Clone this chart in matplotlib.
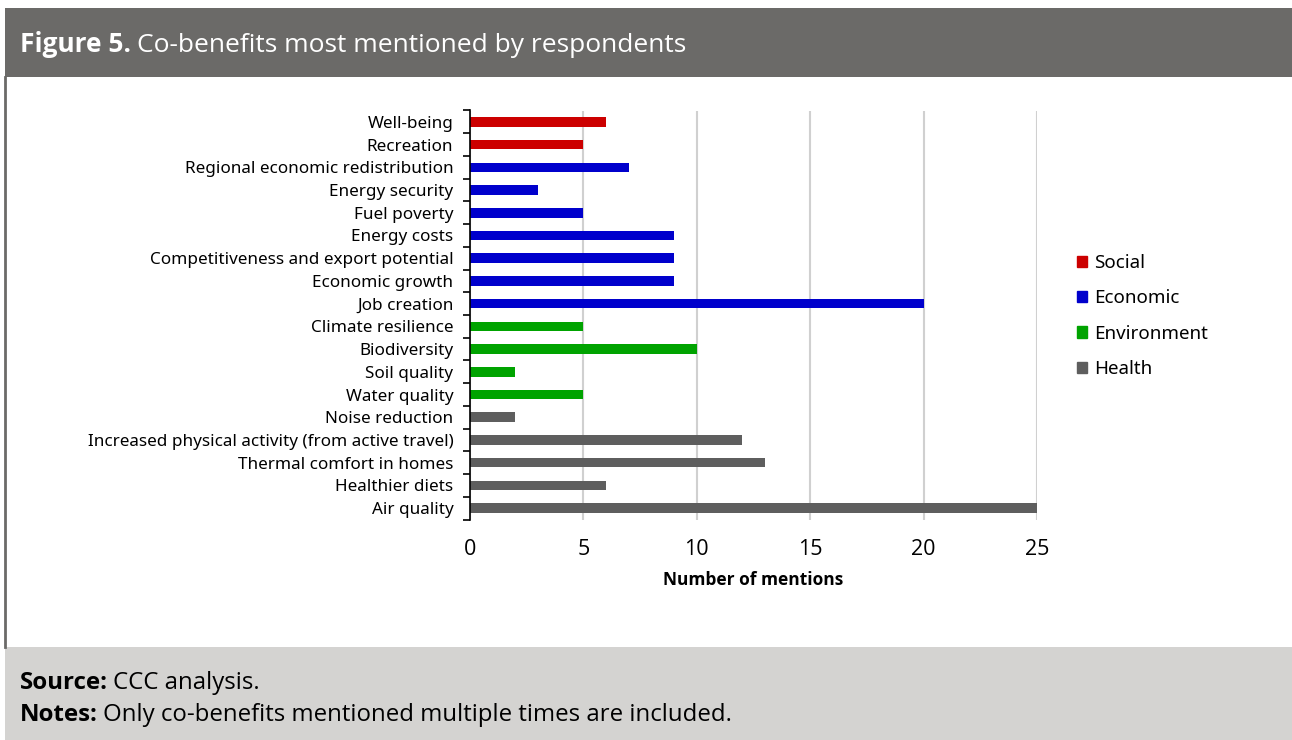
import matplotlib.pyplot as plt
from matplotlib.patches import Patch, Rectangle
from matplotlib.lines import Line2D

# Co-benefits, top to bottom, with counts and group
labels = [
    'Well-being', 'Recreation', 'Regional economic redistribution',
    'Energy security', 'Fuel poverty', 'Energy costs',
    'Competitiveness and export potential', 'Economic growth', 'Job creation',
    'Climate resilience', 'Biodiversity', 'Soil quality', 'Water quality',
    'Noise reduction', 'Increased physical activity (from active travel)',
    'Thermal comfort in homes', 'Healthier diets', 'Air quality',
]
mentions = [6, 5, 7, 3, 5, 9, 9, 9, 20, 5, 10, 2, 5, 2, 12, 13, 6, 25]
groups = ['Social'] * 2 + ['Economic'] * 7 + ['Environment'] * 4 + ['Health'] * 5

group_names = ['Social', 'Economic', 'Environment', 'Health']
group_colors = {'Social': '#CC0000', 'Economic': '#0000CC',
                'Environment': '#00A300', 'Health': '#5E5E5E'}

x_ticks = [0, 5, 10, 15, 20, 25]

W, H = 1292, 740
fig = plt.figure(figsize=(W / 100, H / 100), dpi=100)
fig.patch.set_facecolor('white')

# header band and title
fig.add_artist(Rectangle((5 / W, 1 - 77 / H), 1 - 5 / W, 69 / H,
                         transform=fig.transFigure, color='#6B6A68', lw=0))
title = fig.text(20 / W, 1 - 45 / H, 'Figure 5.', color='white', fontsize=19,
                 fontweight='bold', family='Open Sans', va='center')
fig.canvas.draw()
bb = title.get_window_extent()
fig.text(bb.x1 / W + 6 / W, 1 - 45 / H, 'Co-benefits most mentioned by respondents',
         color='white', fontsize=19, family='Open Sans', va='center')

# frame line on the left and footer band
fig.add_artist(Line2D([5 / W, 5 / W], [1 - 647 / H, 1 - 77 / H],
                      transform=fig.transFigure, color='#6B6A68', lw=2))
fig.add_artist(Rectangle((5 / W, 0), 1 - 5 / W, 1 - 647 / H,
                         transform=fig.transFigure, color='#D4D3D1', lw=0))
for y, head, rest in [(683, 'Source:', 'CCC analysis.'),
                      (715, 'Notes:', 'Only co-benefits mentioned multiple times are included.')]:
    t = fig.text(20 / W, 1 - y / H, head, fontsize=17.3, fontweight='bold',
                 family='Open Sans', va='center', color='black')
    fig.canvas.draw()
    x1 = t.get_window_extent().x1
    fig.text(x1 / W + 5 / W, 1 - y / H, rest, fontsize=17.3,
             family='Open Sans', va='center', color='black')

# bar chart
ax = fig.add_axes([470 / W, 1 - 519.5 / H, 567 / W, 409 / H])
ypos = list(range(len(labels)))
ax.barh(ypos, mentions, height=0.42,
        color=[group_colors[g] for g in groups], zorder=3)
ax.set_ylim(len(labels) - 0.5, -0.5)
ax.set_xlim(0, 25)
ax.set_xticks(x_ticks)
ax.set_yticks(ypos)
ax.set_yticklabels(labels, fontsize=12.3, family='Noto Sans')
ax.set_yticks([i - 0.5 for i in range(len(labels) + 1)], minor=True)
ax.tick_params(axis='y', which='major', length=0, pad=12)
ax.tick_params(axis='y', which='minor', length=5, width=1.2, color='black')
ax.tick_params(axis='x', length=0, pad=14, labelsize=15.5)
for lab in ax.get_xticklabels():
    lab.set_family('Open Sans')
ax.grid(axis='x', color='#D0D0D0', lw=1.5, zorder=0)
for side in ['top', 'right', 'bottom']:
    ax.spines[side].set_visible(False)
ax.spines['left'].set_linewidth(1.2)
ax.spines['left'].set_zorder(4)
ax.set_xlabel('Number of mentions', fontsize=12.5, fontweight='bold',
              family='Open Sans', labelpad=8)

handles = [Patch(color=group_colors[g], label=g) for g in group_names]
fig.legend(handles=handles, loc='upper left',
           bbox_to_anchor=(1060 / W, 1 - 237 / H), frameon=False,
           handlelength=0.55, handleheight=0.55, handletextpad=0.35,
           labelspacing=0.93, prop={'family': 'Noto Sans', 'size': 13.5})

fig.savefig('out.png', dpi=100)
